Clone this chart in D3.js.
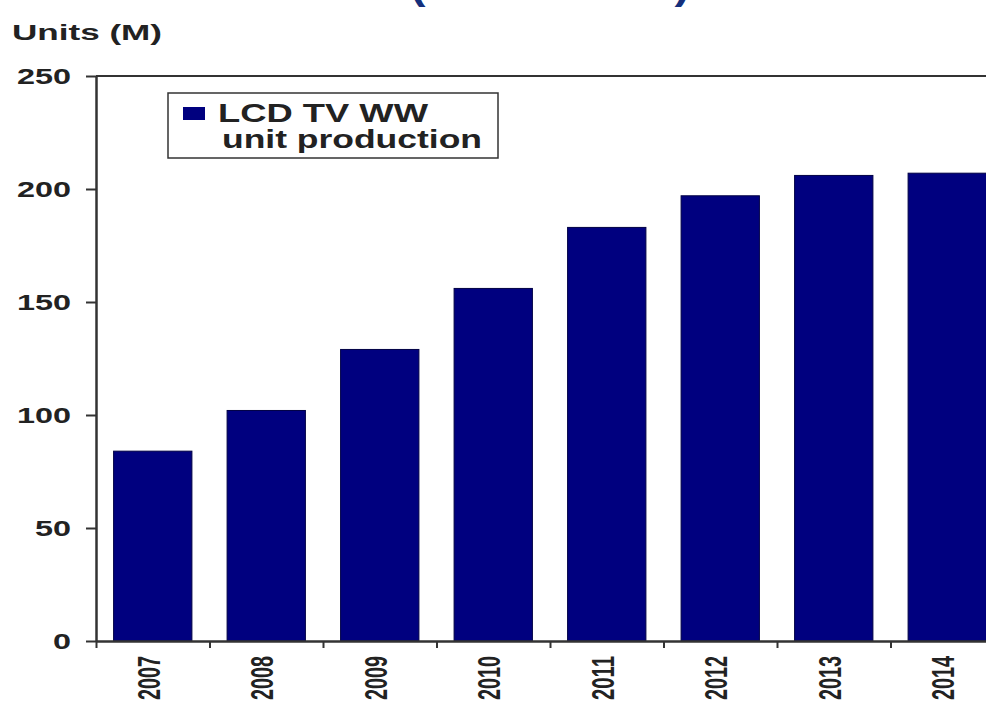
<!DOCTYPE html>
<html>
<head>
<meta charset="utf-8">
<script src="https://cdn.jsdelivr.net/npm/d3@7"></script>
<style>
  body { margin: 0; background: #fff; }
  svg { display: block; font-family: "Liberation Sans", Arial, sans-serif; }
</style>
</head>
<body>
<svg></svg>
<script>
// data
var years = ["2007", "2008", "2009", "2010", "2011", "2012", "2013", "2014"];
var units = [84, 102, 129, 156, 183, 197, 206, 207];
var yTicks = [0, 50, 100, 150, 200, 250];

var svgWidth = 986, svgHeight = 704;
var left = 96, zeroY = 641, topY = 76, step = 113.5;
var right = left + step * years.length;

var svg = d3.select("svg")
  .attr("width", svgWidth)
  .attr("height", svgHeight);

var xScale = d3.scaleBand()
  .domain(years)
  .range([left, right])
  .paddingInner(0.31)
  .paddingOuter(0.155);

// category boundaries for the tick marks
var xEdges = d3.scaleLinear()
  .domain([0, years.length])
  .range([left, right]);

var yScale = d3.scaleLinear()
  .domain([0, 250])
  .range([zeroY, topY]);

// title, cut off at the top like in the original
svg.append("text")
  .attr("x", 410)
  .attr("y", -1)
  .attr("font-size", 40)
  .attr("font-weight", "bold")
  .attr("fill", "#142f7c")
  .attr("textLength", 280)
  .attr("lengthAdjust", "spacingAndGlyphs")
  .text("(2007 - 2014)");

// y title
svg.append("text")
  .attr("x", 12)
  .attr("y", 40)
  .attr("font-size", 22)
  .attr("font-weight", "bold")
  .attr("fill", "#222")
  .attr("textLength", 150)
  .attr("lengthAdjust", "spacingAndGlyphs")
  .text("Units (M)");

// top frame line
svg.append("line")
  .attr("x1", left).attr("x2", right)
  .attr("y1", yScale(250)).attr("y2", yScale(250))
  .attr("stroke", "#333")
  .attr("stroke-width", 2);

// bars
svg.selectAll("rect.bar")
  .data(units)
  .enter()
  .append("rect")
  .attr("class", "bar")
  .attr("x", function(d, i) { return xScale(years[i]); })
  .attr("y", function(d) { return yScale(d); })
  .attr("width", xScale.bandwidth())
  .attr("height", function(d) { return zeroY - yScale(d); })
  .attr("fill", "#00007f")
  .attr("stroke", "#000045")
  .attr("stroke-width", 1);

// y axis
var yAxis = svg.append("g")
  .attr("transform", "translate(" + left + ",0)")
  .call(d3.axisLeft(yScale).tickValues(yTicks).tickSize(10).tickSizeOuter(0).tickPadding(15));

yAxis.select(".domain").attr("stroke", "#333").attr("stroke-width", 2.5);
yAxis.selectAll(".tick line").attr("stroke", "#333").attr("stroke-width", 2);
yAxis.selectAll(".tick text")
  .attr("font-size", 22)
  .attr("font-weight", "bold")
  .attr("fill", "#222")
  .attr("font-family", "Liberation Sans, Arial, sans-serif")
  .attr("textLength", function(d) { return String(d).length * 18; })
  .attr("lengthAdjust", "spacingAndGlyphs");

// x axis
var xAxis = svg.append("g")
  .attr("transform", "translate(0," + zeroY + ")")
  .call(d3.axisBottom(xEdges).tickValues(d3.range(years.length + 1)).tickFormat("").tickSize(7).tickSizeOuter(0));

xAxis.select(".domain").attr("stroke", "#333").attr("stroke-width", 2.5);
xAxis.selectAll(".tick line").attr("stroke", "#333").attr("stroke-width", 2);

// x labels, rotated
svg.selectAll("text.year")
  .data(years)
  .enter()
  .append("text")
  .attr("class", "year")
  .attr("transform", function(d) {
    return "translate(" + (xScale(d) + xScale.bandwidth() / 2 - 4) + ",656) rotate(-90) scale(1,1.5)";
  })
  .attr("text-anchor", "end")
  .attr("dy", "0.35em")
  .attr("font-size", 21)
  .attr("font-weight", "bold")
  .attr("fill", "#222")
  .attr("textLength", 44)
  .attr("lengthAdjust", "spacingAndGlyphs")
  .text(function(d) { return d; });

// legend
var legend = svg.append("g");
legend.append("rect")
  .attr("x", 168).attr("y", 93)
  .attr("width", 330).attr("height", 65)
  .attr("fill", "#fff")
  .attr("stroke", "#333")
  .attr("stroke-width", 1.5);
legend.append("rect")
  .attr("x", 183).attr("y", 107)
  .attr("width", 22).attr("height", 13)
  .attr("fill", "#00007f");
legend.append("text")
  .attr("x", 218).attr("y", 122)
  .attr("font-size", 25)
  .attr("font-weight", "bold")
  .attr("fill", "#222")
  .attr("textLength", 210)
  .attr("lengthAdjust", "spacingAndGlyphs")
  .text("LCD TV WW");
legend.append("text")
  .attr("x", 222).attr("y", 148)
  .attr("font-size", 25)
  .attr("font-weight", "bold")
  .attr("fill", "#222")
  .attr("textLength", 260)
  .attr("lengthAdjust", "spacingAndGlyphs")
  .text("unit production");
</script>
</body>
</html>
